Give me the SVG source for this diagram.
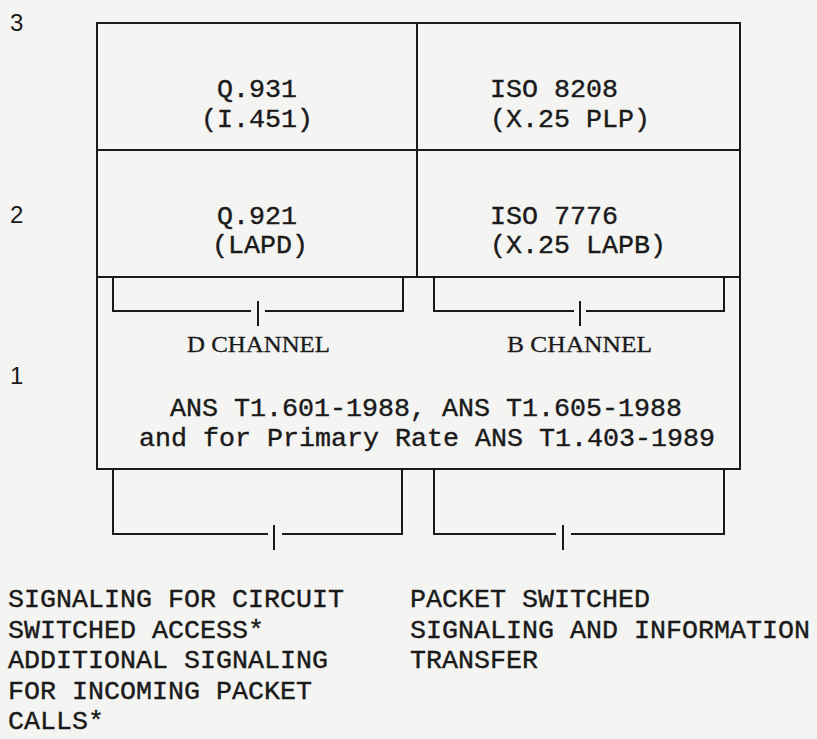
<svg xmlns="http://www.w3.org/2000/svg" width="817" height="739" viewBox="0 0 817 739">
<style>
.ln{stroke:#1a1a1a;stroke-width:2;fill:none;stroke-linecap:square}
.mono{font-family:"Liberation Mono","Courier New",monospace;font-size:26.67px;fill:#1a1a1a;stroke:#1a1a1a;stroke-width:0.4}
.ser{font-family:"Liberation Serif","Times New Roman",serif;font-size:24px;fill:#1a1a1a;stroke:#1a1a1a;stroke-width:0.3}
.num{font-family:"Liberation Sans",Arial,sans-serif;font-size:24px;fill:#1a1a1a}
</style>
<rect width="817" height="739" fill="#f4f4f2"/>
<g id="layer-numbers">
<text class="num" x="10" y="31">3</text>
<text class="num" x="10" y="223">2</text>
<text class="num" x="10" y="384">1</text>
</g>
<g id="q931">
<rect class="ln" x="97" y="23" width="320" height="127"/>
<text class="mono" x="257" y="97" text-anchor="middle">Q.931</text>
<text class="mono" x="257" y="127" text-anchor="middle">(I.451)</text>
</g>
<g id="iso8208">
<rect class="ln" x="417" y="23" width="323" height="127"/>
<text class="mono" x="490" y="97">ISO 8208</text>
<text class="mono" x="490" y="127">(X.25 PLP)</text>
</g>
<g id="q921">
<rect class="ln" x="97" y="150" width="320" height="127"/>
<text class="mono" x="257" y="224" text-anchor="middle">Q.921</text>
<text class="mono" x="260" y="253" text-anchor="middle">(LAPD)</text>
</g>
<g id="iso7776">
<rect class="ln" x="417" y="150" width="323" height="127"/>
<text class="mono" x="490" y="224">ISO 7776</text>
<text class="mono" x="490" y="253">(X.25 LAPB)</text>
</g>
<g id="physical">
<rect class="ln" x="97" y="277" width="643" height="192"/>
<text class="ser" x="258.5" y="352" text-anchor="middle" textLength="143" lengthAdjust="spacingAndGlyphs">D CHANNEL</text>
<text class="ser" x="579.5" y="352" text-anchor="middle" textLength="145" lengthAdjust="spacingAndGlyphs">B CHANNEL</text>
<text class="mono" x="426" y="416" text-anchor="middle">ANS T1.601-1988, ANS T1.605-1988</text>
<text class="mono" x="427" y="446" text-anchor="middle">and for Primary Rate ANS T1.403-1989</text>
</g>
<g id="connectors">
<path class="ln" d="M113 278V311H250M266 311H403V278M258 302V325"/>
<path class="ln" d="M434 278V311H573M587 311H724V278M580 302V325"/>
<path class="ln" d="M113 470V534H267M283 534H402V470M274 526V549"/>
<path class="ln" d="M434 470V534H555M572 534H724V470M563 526V549"/>
</g>
<g id="notes">
<text class="mono" x="8" y="607">SIGNALING FOR CIRCUIT</text>
<text class="mono" x="8" y="637.5">SWITCHED ACCESS*</text>
<text class="mono" x="8" y="668">ADDITIONAL SIGNALING</text>
<text class="mono" x="8" y="698.5">FOR INCOMING PACKET</text>
<text class="mono" x="8" y="729">CALLS*</text>
<text class="mono" x="410" y="607">PACKET SWITCHED</text>
<text class="mono" x="410" y="637.5">SIGNALING AND INFORMATION</text>
<text class="mono" x="410" y="668">TRANSFER</text>
</g>
</svg>
